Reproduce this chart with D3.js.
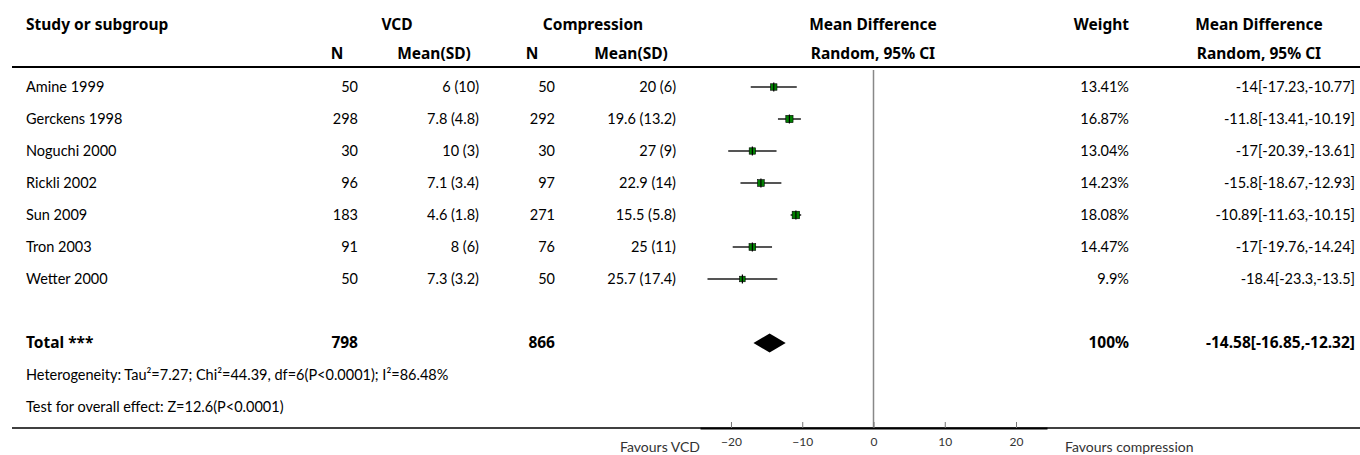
<!DOCTYPE html>
<html>
<head>
<meta charset="utf-8">
<script src="https://cdn.jsdelivr.net/npm/d3@7"></script>
<style>
  body { margin: 0; background: #fff; }
  svg { font-family: "Lato", "Noto Sans", sans-serif; }
  .hd { font-family: "Noto Sans", sans-serif; font-weight: bold; font-size: 15.5px; fill: #000; }
  .cell { font-size: 14.5px; fill: #000; }
</style>
</head>
<body>
<svg id="chart" width="1360" height="455"></svg>
<script>
// 数据
const studies = ["Amine 1999", "Gerckens 1998", "Noguchi 2000", "Rickli 2002", "Sun 2009", "Tron 2003", "Wetter 2000"];
const vcdN = [50, 298, 30, 96, 183, 91, 50];
const vcdMeanSD = ["6 (10)", "7.8 (4.8)", "10 (3)", "7.1 (3.4)", "4.6 (1.8)", "8 (6)", "7.3 (3.2)"];
const compN = [50, 292, 30, 97, 271, 76, 50];
const compMeanSD = ["20 (6)", "19.6 (13.2)", "27 (9)", "22.9 (14)", "15.5 (5.8)", "25 (11)", "25.7 (17.4)"];
const md = [-14, -11.8, -17, -15.8, -10.89, -17, -18.4];
const ciLow = [-17.23, -13.41, -20.39, -18.67, -11.63, -19.76, -23.3];
const ciHigh = [-10.77, -10.19, -13.61, -12.93, -10.15, -14.24, -13.5];
const weights = [13.41, 16.87, 13.04, 14.23, 18.08, 14.47, 9.9];

const total = { label: "Total ***", vcdN: 798, compN: 866, weight: "100%", md: -14.58, lo: -16.85, hi: -12.32 };
const heterogeneity = "Heterogeneity: Tau\u00b2=7.27; Chi\u00b2=44.39, df=6(P<0.0001); I\u00b2=86.48%";
const overallTest = "Test for overall effect: Z=12.6(P<0.0001)";
const xTicks = [-20, -10, 0, 10, 20];
const favours = ["Favours VCD", "Favours compression"];

const svg = d3.select("#chart");

// 比例尺
const x = d3.scaleLinear().domain([-24.35, 24.35]).range([700, 1047]);
const y = d3.scaleLinear().domain([0, 1]).range([87, 119]); // 行号 -> 行中心
const boxSize = d3.scaleSqrt().domain([0, 18.08]).range([0, 7.5]);

const rows = studies.map((s, i) => ({
    study: s, vcdN: vcdN[i], vcdMS: vcdMeanSD[i], compN: compN[i], compMS: compMeanSD[i],
    md: md[i], lo: ciLow[i], hi: ciHigh[i], w: weights[i], i: i
}));

// 表头
const head1 = [
    { t: "Study or subgroup", x: 26, a: "start" },
    { t: "VCD", x: 397, a: "middle" },
    { t: "Compression", x: 593, a: "middle" },
    { t: "Mean Difference", x: 873, a: "middle" },
    { t: "Weight", x: 1129, a: "end" },
    { t: "Mean Difference", x: 1259, a: "middle" }
];
const head2 = [
    { t: "N", x: 337, a: "middle" },
    { t: "Mean(SD)", x: 434, a: "middle" },
    { t: "N", x: 532, a: "middle" },
    { t: "Mean(SD)", x: 631, a: "middle" },
    { t: "Random, 95% CI", x: 873, a: "middle" },
    { t: "Random, 95% CI", x: 1259, a: "middle" }
];
svg.append("g").selectAll("text").data(head1).enter().append("text")
    .attr("class", "hd").attr("x", d => d.x).attr("y", 30)
    .attr("text-anchor", d => d.a).text(d => d.t);
svg.append("g").selectAll("text").data(head2).enter().append("text")
    .attr("class", "hd").attr("x", d => d.x).attr("y", 59)
    .attr("text-anchor", d => d.a).text(d => d.t);

// 横线
svg.append("line").attr("x1", 12).attr("x2", 1360).attr("y1", 67).attr("y2", 67)
    .attr("stroke", "#000").attr("stroke-width", 2);
svg.append("line").attr("x1", 12).attr("x2", 1360).attr("y1", 428).attr("y2", 428)
    .attr("stroke", "#000").attr("stroke-width", 1.5);

// 零线
svg.append("line").attr("x1", x(0)).attr("x2", x(0)).attr("y1", 70).attr("y2", 428)
    .attr("stroke", "#888").attr("stroke-width", 1.5);

// 表格文字
const cols = [
    { f: d => d.study, x: 26, a: "start" },
    { f: d => d.vcdN, x: 358, a: "end" },
    { f: d => d.vcdMS, x: 479, a: "end" },
    { f: d => d.compN, x: 555, a: "end" },
    { f: d => d.compMS, x: 676, a: "end" },
    { f: d => d.w + "%", x: 1129, a: "end" },
    { f: d => `${d.md}[${d.lo},${d.hi}]`, x: 1355, a: "end" }
];
const row = svg.append("g").selectAll("g").data(rows).enter().append("g");
cols.forEach(c => {
    row.append("text").attr("class", "cell")
        .attr("x", c.x).attr("y", d => y(d.i)).attr("dy", "0.35em")
        .attr("text-anchor", c.a).text(c.f);
});

// 置信区间 + 方块
row.append("line")
    .attr("x1", d => x(d.lo)).attr("x2", d => x(d.hi))
    .attr("y1", d => y(d.i)).attr("y2", d => y(d.i))
    .attr("stroke", "#555").attr("stroke-width", 2);
row.append("rect")
    .attr("x", d => x(d.md) - boxSize(d.w) / 2).attr("y", d => y(d.i) - boxSize(d.w) / 2)
    .attr("width", d => boxSize(d.w)).attr("height", d => boxSize(d.w))
    .attr("fill", "#008000").attr("stroke", "#000").attr("stroke-width", 0.6);
row.append("line")
    .attr("x1", d => x(d.md)).attr("x2", d => x(d.md))
    .attr("y1", d => y(d.i) - 4.5).attr("y2", d => y(d.i) + 4.5)
    .attr("stroke", "#000").attr("stroke-width", 1.2);

// 合计
const ty = y(8);
const tot = svg.append("g");
[
    { t: total.label, x: 26, a: "start" },
    { t: total.vcdN, x: 358, a: "end" },
    { t: total.compN, x: 555, a: "end" },
    { t: total.weight, x: 1129, a: "end" },
    { t: `${total.md}[${total.lo},${total.hi}]`, x: 1355, a: "end" }
].forEach(d => {
    tot.append("text").attr("class", "hd").attr("x", d.x).attr("y", ty).attr("dy", "0.35em")
        .attr("text-anchor", d.a).text(d.t);
});
tot.append("path")
    .attr("d", `M${x(total.lo)},${ty} L${x(total.md)},${ty - 9.5} L${x(total.hi)},${ty} L${x(total.md)},${ty + 9.5} Z`)
    .attr("fill", "#000");

svg.append("text").attr("class", "cell").attr("x", 26).attr("y", y(9)).attr("dy", "0.35em").text(heterogeneity);
svg.append("text").attr("class", "cell").attr("x", 26).attr("y", y(10)).attr("dy", "0.35em").text(overallTest);

// 坐标轴
const axis = svg.append("g").attr("transform", "translate(0,428)")
    .call(d3.axisBottom(x).tickValues(xTicks).tickSizeInner(-6).tickSizeOuter(0).tickPadding(9));
axis.select(".domain").attr("stroke", "#000").attr("stroke-width", 2);
axis.selectAll(".tick line").attr("stroke", "#777");
axis.selectAll(".tick text").attr("font-size", 12).attr("fill", "#333")
    .attr("font-family", "Lato, sans-serif");

svg.append("text").attr("x", 700).attr("y", 452).attr("text-anchor", "end")
    .attr("font-size", 14).attr("fill", "#333").text(favours[0]);
svg.append("text").attr("x", 1065).attr("y", 452).attr("text-anchor", "start")
    .attr("font-size", 14).attr("fill", "#333").text(favours[1]);
</script>
</body>
</html>
